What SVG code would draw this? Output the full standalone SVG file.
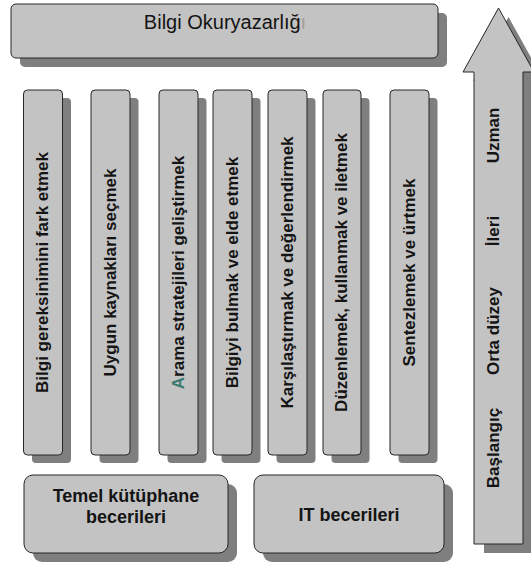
<svg xmlns="http://www.w3.org/2000/svg" width="531" height="565" viewBox="0 0 531 565">
<style>
.box{fill:#c3c3c3;stroke:#262626;stroke-width:1}
.sh{fill:#7f7f7f}
.t{font-family:"Liberation Sans",Arial,sans-serif;font-size:17px;font-weight:bold;fill:#141414;text-anchor:middle}
.tt{font-family:"Liberation Sans",Arial,sans-serif;font-size:20px;fill:#141414;text-anchor:middle}
.bt{font-family:"Liberation Sans",Arial,sans-serif;font-size:18px;font-weight:bold;fill:#141414;text-anchor:middle}
</style>
<rect width="531" height="565" fill="#ffffff"/>
<g id="title">
<rect class="sh" x="20" y="13" width="427" height="54" rx="5"/>
<rect class="box" x="11" y="4" width="427" height="54" rx="5"/>
<text class="tt" x="225" y="29">Bilgi Okuryazarlığ<tspan fill="#a0a0a0">ı</tspan></text>
</g>
<g id="col1">
<rect class="sh" x="32" y="98" width="39" height="365" rx="4"/>
<rect class="box" x="23.5" y="90" width="39" height="365" rx="4"/>
<text class="t" transform="translate(43,272.5) rotate(-90)" x="0" y="5">Bilgi gereksinimini fark etmek</text>
</g>
<g id="col2">
<rect class="sh" x="99.5" y="98" width="39" height="365" rx="4"/>
<rect class="box" x="91" y="90" width="39" height="365" rx="4"/>
<text class="t" transform="translate(110.5,272.5) rotate(-90)" x="0" y="5">Uygun kaynakları seçmek</text>
</g>
<g id="col3">
<rect class="sh" x="167.5" y="98" width="39" height="365" rx="4"/>
<rect class="box" x="159" y="90" width="39" height="365" rx="4"/>
<text class="t" transform="translate(178.5,272.5) rotate(-90)" x="0" y="5"><tspan fill="#3b7a6f">A</tspan>rama stratejileri geliştirmek</text>
</g>
<g id="col4">
<rect class="sh" x="221.5" y="98" width="39" height="365" rx="4"/>
<rect class="box" x="213" y="90" width="39" height="365" rx="4"/>
<text class="t" transform="translate(232.5,272.5) rotate(-90)" x="0" y="5">Bilgiyi bulmak ve elde etmek</text>
</g>
<g id="col5">
<rect class="sh" x="276.5" y="98" width="39" height="365" rx="4"/>
<rect class="box" x="268" y="90" width="39" height="365" rx="4"/>
<text class="t" transform="translate(287.5,272.5) rotate(-90)" x="0" y="5">Karşılaştırmak ve değerlendirmek</text>
</g>
<g id="col6">
<rect class="sh" x="331.5" y="98" width="38" height="365" rx="4"/>
<rect class="box" x="323" y="90" width="38" height="365" rx="4"/>
<text class="t" transform="translate(342,272.5) rotate(-90)" x="0" y="5">Düzenlemek, kullanmak ve iletmek</text>
</g>
<g id="col7">
<rect class="sh" x="398.5" y="98" width="39" height="365" rx="4"/>
<rect class="box" x="390" y="90" width="39" height="365" rx="4"/>
<text class="t" transform="translate(409.5,272.5) rotate(-90)" x="0" y="5">Sentezlemek ve ürtmek</text>
</g>
<g id="temel">
<rect class="sh" x="33" y="484" width="204" height="78" rx="9"/>
<rect class="box" x="24" y="475" width="204" height="78" rx="9"/>
<text class="bt" x="126" y="502">Temel kütüphane</text>
<text class="bt" x="126" y="523">becerileri</text>
</g>
<g id="it">
<rect class="sh" x="263" y="484" width="190" height="78" rx="9"/>
<rect class="box" x="254" y="475" width="190" height="78" rx="9"/>
<text class="bt" x="349" y="521">IT becerileri</text>
</g>
<g id="progress-arrow">
<polygon class="sh" points="508.5,17 544,81 533,81 533,553 484,553 484,81 473,81"/>
<polygon class="box" points="498.5,8 534,72 523,72 523,544 474,544 474,72 463,72"/>
<text class="t" transform="translate(494,135.5) rotate(-90)" x="0" y="5">Uzman</text>
<text class="t" transform="translate(494,231) rotate(-90)" x="0" y="5">İleri</text>
<text class="t" transform="translate(494,331) rotate(-90)" x="0" y="5">Orta düzey</text>
<text class="t" transform="translate(494,448) rotate(-90)" x="0" y="5">Başlangıç</text>
</g>
<g id="connectors"/>
</svg>
